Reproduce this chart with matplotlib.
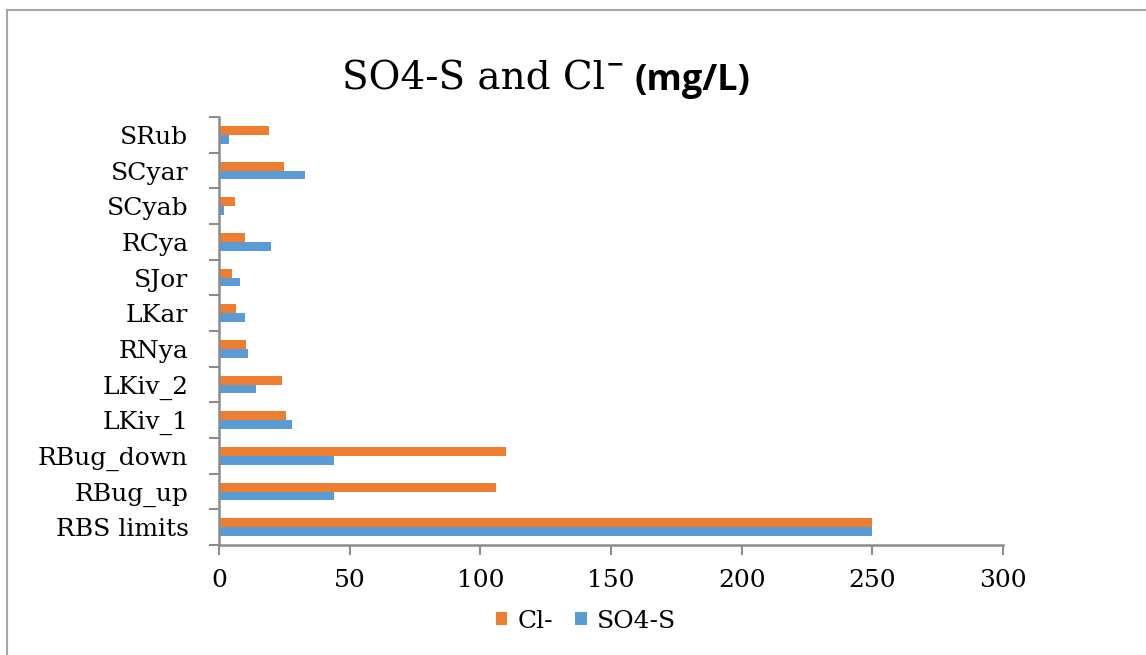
import matplotlib
matplotlib.use("Agg")
import matplotlib.pyplot as plt
from matplotlib.lines import Line2D
from matplotlib.patches import Patch
import numpy as np

# Sites listed bottom-to-top as they appear on the vertical axis
sites = ["RBS limits", "RBug_up", "RBug_down", "LKiv_1", "LKiv_2", "RNya",
         "LKar", "SJor", "RCya", "SCyab", "SCyar", "SRub"]
cl_values = [250, 106, 110, 25.5, 24, 10.3, 6.5, 5, 10, 6, 25, 19]
so4_values = [250, 44, 44, 28, 14, 11, 10, 8, 20, 2, 33, 4]
x_ticks = [0, 50, 100, 150, 200, 250, 300]

CL_COLOR = "#ED7D31"
SO4_COLOR = "#5B9BD5"
AXIS_GRAY = "#8C8C8C"
SERIF = "DejaVu Serif"

W, H = 1146, 655
fig = plt.figure(figsize=(W / 100, H / 100), dpi=100)
fig.patch.set_facecolor("white")

# plot area in pixel coordinates
left, right, top, bottom = 219, 1003, 117, 545
ax = fig.add_axes([left / W, 1 - bottom / H, (right - left) / W, (bottom - top) / H])

y = np.arange(len(sites))
bh = 0.25
ax.barh(y + bh / 2, cl_values, height=bh, color=CL_COLOR, label="Cl-")
ax.barh(y - bh / 2, so4_values, height=bh, color=SO4_COLOR, label="SO4-S")

ax.set_xlim(0, 300)
ax.set_ylim(-0.5, len(sites) - 0.5)
ax.set_xticks(x_ticks)
ax.set_xticklabels([str(v) for v in x_ticks], fontsize=18, family=SERIF)
ax.set_yticks(y)
ax.set_yticklabels(sites, fontsize=18, family=SERIF)
ax.set_yticks(np.arange(-0.5, len(sites), 1.0), minor=True)

ax.tick_params(axis="y", which="major", length=0, pad=22)
ax.tick_params(axis="y", which="minor", length=7, width=1.5, color=AXIS_GRAY, direction="out")
ax.tick_params(axis="x", which="major", length=7, width=1.5, color=AXIS_GRAY, direction="out", pad=10)

for side in ("top", "right"):
    ax.spines[side].set_visible(False)
for side in ("left", "bottom"):
    ax.spines[side].set_color(AXIS_GRAY)
    ax.spines[side].set_linewidth(1.8)

# legend below the axis
handles = [Patch(facecolor=CL_COLOR), Patch(facecolor=SO4_COLOR)]
fig.legend(handles, ["Cl-", "SO4-S"], loc="center",
           bbox_to_anchor=(586 / W, 1 - 621 / H), ncol=2, frameon=False,
           prop={"family": SERIF, "size": 18},
           handlelength=0.45, handleheight=0.45, handletextpad=0.4,
           columnspacing=0.9)

# title built from three pieces: serif name, raised minus, bold sans unit
fig.canvas.draw()
renderer = fig.canvas.get_renderer()
base_y = 1 - 90 / H
t1 = fig.text(342 / W, base_y, "SO4-S and Cl", fontsize=28, family=SERIF,
              ha="left", va="baseline")
bb1 = t1.get_window_extent(renderer)
t2 = fig.text((bb1.x1 + 1) / W, 1 - 70 / H, "\u2212", fontsize=16,
              family=["DejaVu Sans"], weight="bold", ha="left", va="baseline")
bb2 = t2.get_window_extent(renderer)
t3 = fig.text((bb2.x1 + 10) / W, base_y, "(mg/L)", fontsize=26,
              family="Open Sans", weight="bold", ha="left", va="baseline")

# chart frame edges (left and top)
frame_kw = dict(color="#A6A6A6", linewidth=1.5, transform=fig.transFigure)
fig.add_artist(Line2D([6.5 / W, 6.5 / W], [0, 1 - 9.5 / H], **frame_kw))
fig.add_artist(Line2D([6.5 / W, 1], [1 - 9.5 / H, 1 - 9.5 / H], **frame_kw))

fig.savefig("out.png", dpi=100)
